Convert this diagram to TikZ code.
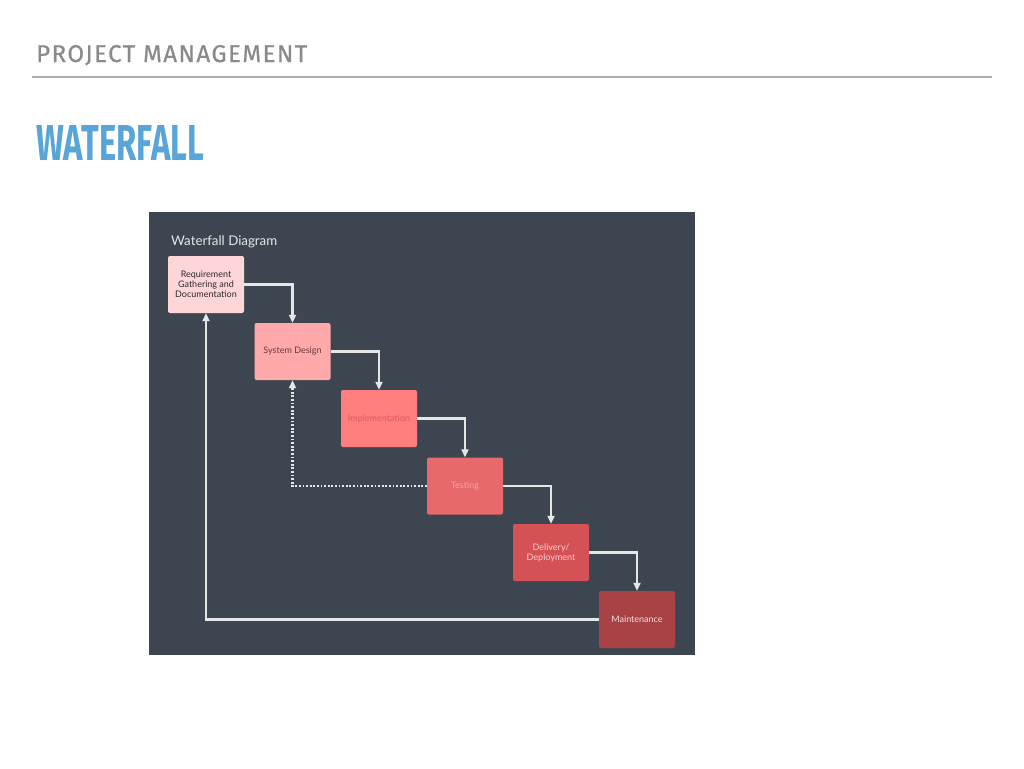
\documentclass[tikz,border=0pt]{standalone}
\usepackage{fontspec}
\usepackage{graphicx}
\setmainfont{Fira Sans}
\newfontfamily\boxfont{Lato}
\usetikzlibrary{arrows.meta}
\definecolor{headgray}{HTML}{8A8A8A}
\definecolor{rulegray}{HTML}{ABABAB}
\definecolor{titleblue}{HTML}{5AA5D8}
\definecolor{panel}{HTML}{3D4650}
\definecolor{flow}{HTML}{E6E6E6}
\definecolor{cA}{HTML}{FFD6D8}
\definecolor{cB}{HTML}{FFA9AB}
\definecolor{cC}{HTML}{FF7F7F}
\definecolor{cD}{HTML}{E8696B}
\definecolor{cE}{HTML}{D45255}
\definecolor{cF}{HTML}{A84245}
\definecolor{tA}{HTML}{2E2A2B}
\definecolor{tB}{HTML}{6A3A3C}
\definecolor{tC}{HTML}{E0595C}
\definecolor{tD}{HTML}{F5A3A4}
\definecolor{tE}{HTML}{F6CFD0}
\definecolor{tF}{HTML}{F5DEDE}
\tikzset{
  phase/.style={draw=none, rounded corners=2pt, minimum width=76pt, minimum height=57pt,
    inner sep=1pt, align=center, font=\boxfont\fontsize{9pt}{10pt}\selectfont},
  flowline/.style={draw=flow, line width=2.2pt, -{Triangle[length=8pt,width=7pt]}},
  backline/.style={flowline},
  dotline/.style={flowline, dash pattern=on 1.8pt off 1.8pt},
}
\begin{document}
\begin{tikzpicture}[x=1pt,y=-1pt]
\useasboundingbox[fill=white] (0,0) rectangle (1024,768);
\node[anchor=base west, inner sep=0pt, text=headgray] (head) at (36,62)
  {\resizebox{271pt}{17pt}{\addfontfeature{LetterSpace=6,FakeBold=0.6}PROJECT MANAGEMENT}};
\draw[rulegray, line width=1.8pt] (32,77) -- (992,77);
\node[anchor=base west, inner sep=0pt, text=titleblue] (title) at (36,160)
  {\resizebox{168pt}{35pt}{\bfseries WATERFALL}};
\fill[panel] (149,212) rectangle (695,655);
\node[anchor=base west, inner sep=0pt, text=flow, font=\boxfont\fontsize{13.3pt}{15pt}\selectfont] (dtitle) at (171,245) {Waterfall Diagram};
\node[phase, fill=cA, text=tA] (req) at (206,284.5) {Requirement\\Gathering and\\Documentation};
\node[phase, fill=cB, text=tB] (sys) at (292.5,351.5) {System Design};
\node[phase, fill=cC, text=tC] (imp) at (379,418.5) {Implementation};
\node[phase, fill=cD, text=tD] (tst) at (465,486) {Testing};
\node[phase, fill=cE, text=tE] (del) at (551,552.5) {Delivery/\\Deployment};
\node[phase, fill=cF, text=tF] (mnt) at (637,619.5) {Maintenance};
\draw[flowline] (req.east) -| (sys.north);
\draw[flowline] (sys.east) -| (imp.north);
\draw[flowline] (imp.east) -| (tst.north);
\draw[flowline] (tst.east) -| (del.north);
\draw[flowline] (del.east) -| (mnt.north);
\draw[dotline] (tst.west) -| (sys.south);
\draw[backline] (mnt.west) -| (req.south);
\end{tikzpicture}
\end{document}
